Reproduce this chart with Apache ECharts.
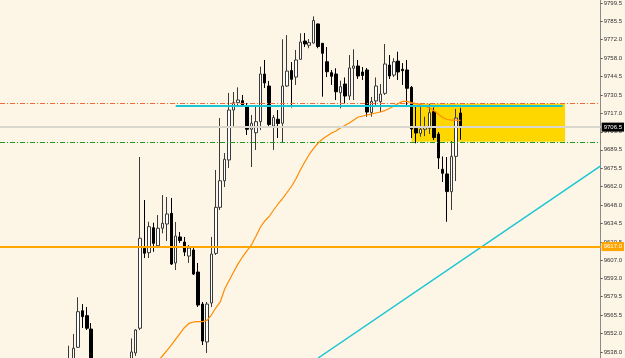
<!DOCTYPE html>
<html><head><meta charset="utf-8">
<script src="https://cdn.jsdelivr.net/npm/echarts@6/dist/echarts.min.js"></script>
<style>html,body{margin:0;padding:0;background:#FDF5E6}#c{width:625px;height:358px}</style>
</head><body><div id="c"></div>
<script>
// ---- data (null = candle outside the visible price range) ----
const slotCount = 135;
const opens = [null,null,null,null,null,null,null,null,null,null,null,null,null,null,null,
9528.0,9532.0,9541.5,9568.9,9565.2,9555.2,
null,null,null,null,null,null,null,null,
9525.0,9537.3,9555.8,9615.7,9612.4,9631.1,9617.6,9630.7,9633.9,9641.9,9604.7,9624.2,9620.4,9609.9,9614.4,9597.9,9573.9,9545.5,9574.7,9611.9,9646.4,9666.3,9681.9,9719.3,9724.8,9726.3,9722.3,9704.9,9702.3,9710.6,9746.3,9737.3,9707.3,9712.4,9709.4,9737.3,9748.9,9744.0,9757.3,9771.0,9767.8,9769.5,9783.8,9769.3,9755.5,9747.3,9746.3,9732.3,9738.8,9729.8,9750.6,9752.3,9747.8,9749.3,9717.5,9726.1,9725.5,9731.8,9753.0,9745.5,9756.0,9749.8,9749.3,9736.3,9705.5,9701.9,9704.9,9705.6,9718.1,9701.3,9674.9,9671.4,9658.1,9684.6,9717.1];
const closes = [null,null,null,null,null,null,null,null,null,null,null,null,null,null,null,
9533.0,9540.8,9568.2,9564.5,9555.8,9520.0,
null,null,null,null,null,null,null,null,
9538.0,9554.5,9623.2,9612.0,9631.9,9619.4,9630.7,9634.4,9641.4,9603.9,9624.9,9621.5,9612.9,9615.9,9596.4,9573.2,9546.2,9573.9,9611.4,9646.4,9666.3,9682.4,9719.3,9724.8,9726.8,9722.9,9704.9,9709.4,9710.6,9746.3,9739.6,9708.5,9713.7,9709.2,9737.3,9748.5,9742.3,9756.8,9770.3,9768.8,9769.8,9786.4,9766.9,9761.8,9748.0,9744.6,9733.0,9736.8,9729.8,9750.8,9752.3,9744.8,9745.2,9717.8,9725.7,9737.3,9731.3,9753.8,9744.8,9755.5,9747.8,9748.8,9735.6,9705.1,9702.1,9704.9,9706.6,9717.3,9698.7,9683.4,9671.9,9658.2,9684.6,9713.3,9706.5];
const lows = [null,null,null,null,null,null,null,null,null,null,null,null,null,null,null,
9525.0,9530.0,9541.0,9556.0,9554.5,9515.0,
null,null,null,null,null,null,null,null,
9520.0,9535.0,9554.5,9608.4,9608.4,9613.1,9616.9,9626.9,9621.2,9603.2,9599.4,9619.7,9609.9,9604.7,9595.7,9571.7,9543.2,9537.3,9571.7,9610.7,9644.4,9661.6,9675.9,9706.6,9721.6,9721.6,9700.6,9676.6,9689.4,9704.3,9735.8,9705.8,9689.4,9698.3,9694.6,9736.6,9721.2,9738.1,9756.8,9766.5,9765.6,9769.2,9765.6,9729.3,9744.0,9738.1,9726.8,9720.6,9723.8,9726.8,9726.8,9742.6,9741.8,9714.3,9714.3,9721.8,9717.8,9730.6,9742.6,9744.0,9741.8,9738.1,9722.3,9698.3,9694.4,9699.3,9699.8,9701.3,9696.8,9675.1,9665.4,9635.6,9644.4,9666.1,9697.1];
const highs = [null,null,null,null,null,null,null,null,null,null,null,null,null,null,null,
9542.7,9551.5,9579.0,9573.9,9571.7,9559.7,
null,null,null,null,null,null,null,null,
9548.2,9555.2,9684.1,9651.9,9635.6,9634.9,9640.6,9655.6,9654.1,9653.4,9635.4,9627.9,9624.2,9618.2,9616.7,9604.7,9575.5,9575.5,9624.2,9674.4,9713.3,9687.1,9732.1,9732.8,9736.3,9730.6,9724.6,9715.6,9723.1,9751.8,9756.8,9741.1,9715.6,9719.3,9772.3,9775.5,9755.3,9764.3,9776.8,9777.0,9772.5,9789.5,9784.1,9769.5,9766.5,9749.3,9750.6,9741.3,9743.7,9760.5,9764.8,9756.8,9751.5,9750.8,9729.1,9743.7,9738.8,9768.8,9760.5,9758.1,9763.0,9754.5,9756.8,9737.3,9722.3,9723.4,9714.3,9723.8,9721.2,9702.8,9684.5,9684.1,9696.1,9720.1,9721.0];
// moving average (from candle 35 on)
const maValues = [null,null,null,null,null,null,null,null,null,null,null,null,null,null,null,null,null,null,null,null,null,null,null,null,null,null,null,null,null,null,null,null,null,null,null,
9531.2,9535.0,9539.1,9543.2,9547.7,9552.2,9556.4,9559.5,9560.5,9560.7,9560.7,9561.6,9565.7,9571.0,9575.5,9585.2,9591.6,9598.0,9604.0,9609.2,9613.7,9618.2,9624.5,9631.3,9636.2,9639.5,9644.4,9648.9,9653.0,9657.5,9662.0,9667.6,9674.4,9680.4,9686.0,9690.5,9694.6,9697.6,9699.8,9702.1,9703.6,9705.8,9707.7,9709.6,9711.8,9714.1,9714.8,9715.6,9716.3,9717.1,9717.8,9718.9,9720.4,9722.3,9724.2,9725.8,9725.8,9724.9,9724.2,9723.3,9722.3,9720.8,9718.9,9716.3,9713.7,9712.2,9711.8,9711.8,9711.5];
const tickValues = [9799.5,9785.5,9772.0,9758.0,9744.5,9730.5,9717.0,9703.0,9689.5,9675.5,9662.0,9648.0,9634.5,9620.5,9607.0,9593.0,9579.5,9565.5,9552.0,9538.0];
const priceMin = 9533.5, priceMax = 9801.75;
const bidPrice = 9706.5;
const redLevel = 9724.4;
const greenLevel = 9695.1;
const orangeLevel = 9617.0;
const cyanLevel = [[39.5, 9722.3], [126.5, 9722.3]];
const trendLine = [[71.5, 9533.5], [135, 9677.4]];
const zoneBox = [[92.5, 9724.0], [127.0, 9695.5]];

const categories = Array.from({length: slotCount}, (_, i) => String(i));
const candleData = opens.map((o, i) => o == null ? ['-','-','-','-'] : [o, closes[i], lows[i], highs[i]]);
const maData = maValues.map(v => v == null ? '-' : v);

const chart = echarts.init(document.getElementById('c'), null, {renderer: 'canvas'});
chart.setOption({
  animation: false,
  backgroundColor: '#FDF5E6',
  grid: {left: -2, right: 22, top: 0, bottom: 0},
  xAxis: [
    {type: 'category', data: categories, show: false, boundaryGap: true},
    {type: 'value', min: 0, max: slotCount, show: false}
  ],
  yAxis: {
    type: 'value', min: priceMin, max: priceMax, position: 'right', scale: true,
    axisLine: {show: true, onZero: false, lineStyle: {color: '#8a8a8a', width: 1}},
    axisTick: {show: true, length: 2, inside: false, customValues: tickValues, lineStyle: {color: '#555'}},
    axisLabel: {customValues: tickValues, formatter: v => v.toFixed(1), fontSize: 6, color: '#333',
      fontFamily: 'Liberation Sans', margin: 3},
    splitLine: {show: false}
  },
  series: [
    {
      type: 'line', xAxisIndex: 1, data: [], z: 1, silent: true,
      markArea: {silent: true, itemStyle: {color: '#FFD700', opacity: 1},
        data: [[{xAxis: zoneBox[0][0], yAxis: zoneBox[0][1]}, {xAxis: zoneBox[1][0], yAxis: zoneBox[1][1]}]]},
      markLine: {silent: true, symbol: ['none','none'],
        data: [{yAxis: bidPrice, lineStyle: {color: '#D9D6CE', width: 2, type: 'solid'},
          label: {show: true, position: 'end', formatter: bidPrice.toFixed(1), backgroundColor: '#000', color: '#fff',
            fontSize: 6, fontFamily: 'Liberation Sans', padding: [2, 2, 1, 2], distance: 1}}]}
    },
    {
      type: 'candlestick', xAxisIndex: 0, data: candleData, barWidth: 3, z: 2,
      itemStyle: {color: '#FFFFFF', color0: '#000000', borderColor: '#3a3a3a', borderColor0: '#000000', borderWidth: 1}
    },
    {
      type: 'line', xAxisIndex: 0, data: maData, symbol: 'none', z: 3,
      lineStyle: {color: '#FF8C00', width: 1.2}
    },
    {
      type: 'line', xAxisIndex: 1, data: cyanLevel, symbol: 'none', z: 4,
      lineStyle: {color: '#1BC6D4', width: 2},
      markLine: {silent: true, symbol: ['none','none'], data: [
        {yAxis: redLevel, lineStyle: {color: '#F06A3A', width: 1, type: [5,2,1,2]}, label: {show: false}},
        {yAxis: greenLevel, lineStyle: {color: '#1E9A1E', width: 1, type: [5,2,1,2]}, label: {show: false}},
        {yAxis: orangeLevel, lineStyle: {color: '#FFA500', width: 2, type: 'solid'},
          label: {show: true, position: 'end', formatter: orangeLevel.toFixed(1), backgroundColor: '#FFA500', color: '#fff',
            fontSize: 6, fontFamily: 'Liberation Sans', padding: [2, 2, 1, 2], distance: 1}}
      ]}
    },
    {
      type: 'line', xAxisIndex: 1, data: trendLine, symbol: 'none', z: 4,
      lineStyle: {color: '#1BC6D4', width: 1.5}
    }
  ]
});
</script></body></html>
